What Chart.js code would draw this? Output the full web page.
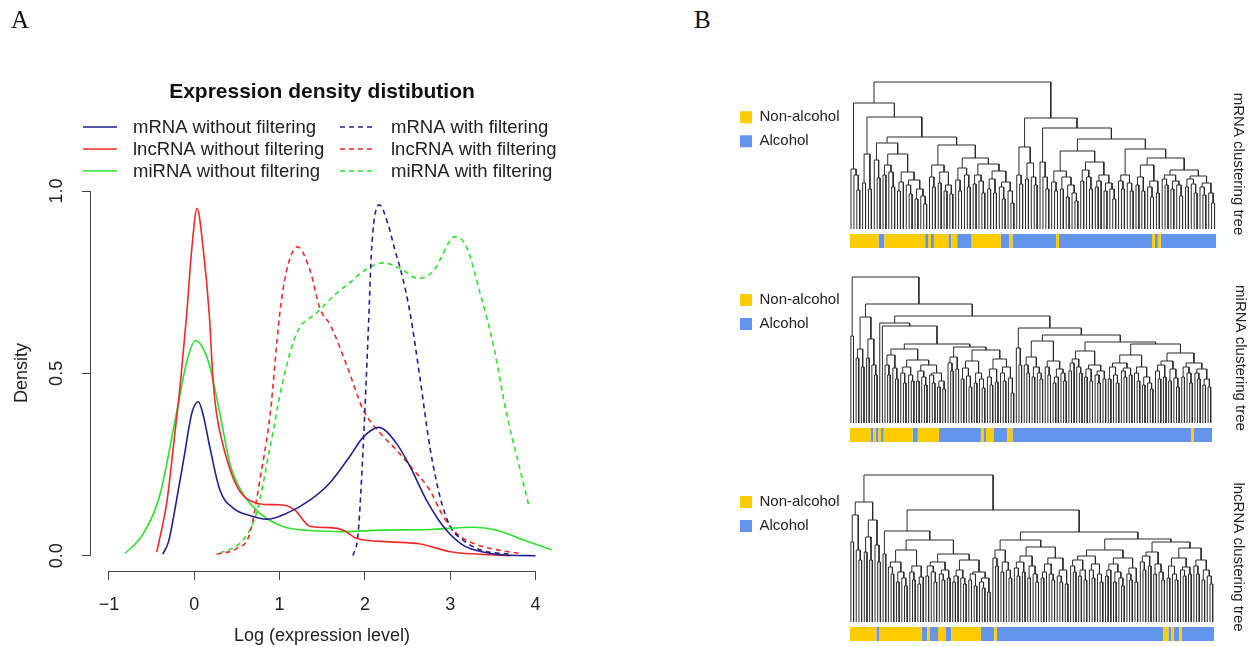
<!DOCTYPE html>
<html>
<head>
<meta charset="utf-8">
<script src="https://cdn.jsdelivr.net/npm/chart.js@4.4.1/dist/chart.umd.min.js"></script>
<style>
  html, body { margin: 0; padding: 0; background: #fff; overflow: hidden; }
  body { width: 1254px; height: 647px; position: relative; }
  .box { position: absolute; }
  .panel-label { position: absolute; font-family: "Liberation Serif", "Times New Roman", serif; font-size: 25px; color: #111; }
</style>
</head>
<body>
<div class="box" style="left:0; top:0; width:600px; height:647px;"><canvas id="densityChart"></canvas></div>
<div class="box" style="left:700px; top:70px; width:554px; height:190px;"><canvas id="mrnaTreeChart"></canvas></div>
<div class="box" style="left:700px; top:264px; width:554px; height:190px;"><canvas id="mirnaTreeChart"></canvas></div>
<div class="box" style="left:700px; top:463px; width:554px; height:184px;"><canvas id="lncTreeChart"></canvas></div>
<div class="panel-label" style="left:11px; top:6px;">A</div>
<div class="panel-label" style="left:694px; top:6px;">B</div>
<script>
// ---------- panel A: density curves, [log(expression), density]
const mrnaWithout = [[-0.37,0.004],[-0.30,0.04],[-0.21,0.15],[-0.12,0.27],[-0.03,0.39],[0.047,0.422],[0.11,0.38],[0.18,0.30],[0.30,0.18],[0.46,0.13],[0.65,0.11],[0.85,0.10],[1.08,0.116],[1.36,0.153],[1.59,0.20],[1.83,0.275],[1.98,0.325],[2.16,0.352],[2.37,0.308],[2.53,0.244],[2.72,0.153],[2.92,0.08],[3.15,0.029],[3.43,0.008],[3.7,0.001],[4.0,0]];
const lncWithout = [[-0.44,0.01],[-0.32,0.15],[-0.245,0.30],[-0.16,0.48],[-0.09,0.66],[-0.03,0.84],[0.032,0.953],[0.105,0.84],[0.176,0.66],[0.22,0.48],[0.26,0.39],[0.34,0.30],[0.5,0.19],[0.73,0.144],[0.9,0.14],[1.04,0.139],[1.18,0.125],[1.36,0.08],[1.59,0.077],[1.75,0.07],[1.90,0.048],[2.29,0.038],[2.65,0.032],[3.0,0.011],[3.35,0.004],[3.7,0.0]];
const mirnaWithout = [[-0.81,0.006],[-0.60,0.06],[-0.40,0.17],[-0.21,0.39],[-0.08,0.54],[0.016,0.59],[0.1,0.57],[0.18,0.52],[0.30,0.39],[0.42,0.25],[0.57,0.17],[0.77,0.116],[1.04,0.08],[1.36,0.069],[1.75,0.066],[2.18,0.07],[2.76,0.072],[3.27,0.078],[3.55,0.07],[3.86,0.043],[4.19,0.016]];
const mrnaWith = [[1.86,0.0],[1.92,0.06],[1.98,0.30],[2.04,0.62],[2.08,0.847],[2.17,0.962],[2.27,0.91],[2.35,0.84],[2.43,0.774],[2.53,0.665],[2.65,0.48],[2.76,0.30],[2.88,0.162],[3.0,0.08],[3.15,0.043],[3.35,0.016],[3.70,0.004]];
const lncWith = [[0.26,0.004],[0.5,0.02],[0.65,0.06],[0.77,0.21],[0.89,0.39],[1.0,0.66],[1.08,0.78],[1.21,0.847],[1.36,0.78],[1.47,0.68],[1.6,0.63],[1.79,0.52],[1.98,0.40],[2.18,0.336],[2.37,0.29],[2.57,0.235],[2.76,0.18],[2.92,0.107],[3.08,0.06],[3.27,0.034],[3.55,0.016],[3.82,0.006]];
const mirnaWith = [[0.30,0.006],[0.57,0.043],[0.73,0.117],[0.89,0.30],[1.04,0.48],[1.20,0.61],[1.43,0.665],[1.67,0.72],[1.83,0.75],[1.98,0.78],[2.22,0.803],[2.41,0.788],[2.63,0.76],[2.80,0.78],[3.06,0.875],[3.19,0.847],[3.35,0.72],[3.51,0.573],[3.66,0.39],[3.82,0.235],[3.92,0.139]];
const xTicks = [-1, 0, 1, 2, 3, 4];
const yTicks = [0, 0.5, 1];

// ---------- panel B: clustering trees, "(left right)height", "." = one sample
const mrnaTree =
  "(" +
    "(" + "(.(.(..)39)54)60" +
      "(" + "((..)46(..)40)75" +
        "(" +
          "(" + "(.(..)51)69" +
            "(" + "((..)54(.(..)42)57)64" +
              "(" + "((..)38.)47" + "((.(..)35)44((..)30(.(..)25)33)40)49" + ")57" +
            ")75" +
          ")86" +
          "(" + "((.(..)42)52((..)46((..)38(..)35)44)57)64" +
            "(" + "((.(..)38)49(.(..)42)54)61" +
              "(" + "((..)45(.(..)36)48)54" + "(((..)40(..)36)50((.(..)30)42(.(..)26)38)47)58" + ")65" +
            ")71" +
          ")84" +
        ")92" +
      ")112" +
    ")126" +
    "(" + "((.(..)45)54((..)50(.(..)44)52)66)82" +
      "(" + "(.(.(..)40)52)67" +
        "(" +
          "(" + "((.(..)38)47((..)40((..)32(.(..)28)36)44)52)58" +
            "(" + "((..)48(.(..)40)52)59" + "(((..)42.)48((..)38(.(..)30)40)46)54" + ")67" +
          ")78" +
          "(" + "((.(..)40)48(.(..)38)46)54" +
            "(" + "(((..)44(..)38)52((.(..)32)42(..)36)48)64" +
              "(" + "((.(..)44)50((..)40(.(..)33)44)48)54" + "(((..)42(.(..)36)45)50((.(..)34)42(.(..)26)36)46)53" + ")59" +
            ")71" +
          ")80" +
        ")90" +
      ")101" +
    ")111" +
  ")147";

const mirnaTree =
  "(" + "(..)87" +
    "(" +
      "(" + "((..)65(..)56)74" + "((..)65(.(..)48)58)84" + ")106" +
      "(" +
        "(.(." +
          "(" +
            "(" + "((.(..)48)58(.(..)44)55)68" +
              "(" + "((.(..)40)50(.(..)42)48)56" + "(((..)42(.(..)38)46)52((.(..)40)48((..)36(..)34)42)50)58" + ")63" +
            ")74" +
            "(" + "((.(..)52)60(..)54)66" +
              "(" + "(((..)44(.(..)36)47)55((..)40(.(..)35)44)50)62" + "(((.(..)38)46(..)41)54((.(..)42)50(.(..)30)45)56)64" + ")73" +
            ")76" +
          ")79" +
        ")97)100" +
        "(" + "(.(..)58)75" +
          "(" + "(((.(..)50)58((..)46(.(..)44)50)56)66((.(..)48)56(((..)40.)46(.(..)42)50)54)62)82" +
            "(" + "((((..)52.)60(.(..)50)56)64(((..)46(..)42)54((.(..)40)48(..)44)52)58)72" +
              "(" +
                "(" + "(((..)44(.(..)40)48)56((.(..)46)52(..)48)55)60" + "((.(..)42)50((..)38(.(..)34)40)46)56" + ")68" +
                "(" + "(((.(..)44)52(..)46)58((..)42(.(..)36)45)54)62" + "(((..)46(.(..)40)50)56((.(..)44)50((..)38(..)36)44)54)60" + ")70" +
              ")79" +
            ")81" +
          ")88" +
        ")95" +
      ")107" +
    ")119" +
  ")146";

const lncTree =
  "(" +
    "(" + "((..)80(.(..)62)72)107" + "(((..)70(..)62)85(.(..)60)77)102" + ")120" +
    "(" +
      "(" + "(..)68" +
        "(" + "(((.(..)48)55((..)40(.(..)36)44)50)60((.(..)42)50((..)38.)45)56)72" +
          "(" + "(((..)46(.(..)40)50)56((.(..)42)48(..)44)52)60" + "((((..)40.)46(.(..)38)44)52(((..)42(..)36)48((.(..)34)40(..)30)44)50)62" + ")68" +
        ")82" +
      ")91" +
      "(" +
        "(" + "((.(..)56)64((..)50(.(..)44)52)60)72" +
          "(" + "(((.(..)46)54(..)50)60((..)44(.(..)40)48)56)66" + "((((..)44.)50(.(..)42)48)58((.(..)40)46(..)38)52)64" + ")75" +
        ")82" +
        "(" +
          "(" + "(((.(..)50)56((..)46(..)42)52)62((.(..)44)52(.(..)40)48)58)66" + "((((..)46.)52((..)40(.(..)36)44)50)58((.(..)42)48(..)40)54)64" + ")72" +
          "(" + "(((.(..)52)60(..)56)66((..)48(.(..)42)50)58)70" +
            "(" + "(((..)44(.(..)42)48)56((.(..)46)52(..)48)55)64" + "((.(..)48)56((..)42(.(..)38)46)52)62" + ")74" +
          ")80" +
        ")83" +
      ")90" +
    ")112" +
  ")147";

// sample groups along the leaf order, run lengths alternating Non-alcohol / Alcohol
const mrnaGroups  = [10, 2, 14, 1, 1, 1, 5, 1, 2, 5, 10, 3, 1, 15, 1, 32, 1, 1, 1, 19];
const mirnaGroups = [8, 1, 1, 1, 1, 1, 11, 2, 8, 16, 1, 1, 3, 5, 2, 68, 1, 7];
const lncGroups   = [10, 1, 16, 2, 1, 3, 3, 2, 11, 5, 1, 62, 2, 1, 1, 2, 1, 12];

Chart.defaults.font.family = '"Liberation Sans", Arial, Helvetica, sans-serif';
Chart.defaults.color = '#222';

const navy = '#22228a', red = '#ee2a2a', green = '#2ee02e';
const yellow = '#FFCC00', blue = '#6495ED';

// ---------- panel A
const densityExtras = {
  id: 'densityExtras',
  afterDraw(chart) {
    const {ctx, chartArea} = chart;
    const x = chart.scales.x, y = chart.scales.y;
    ctx.save();
    // R draws the axis lines only between the outer ticks
    ctx.strokeStyle = '#444';
    ctx.lineWidth = 1;
    ctx.beginPath();
    const xb = Math.round(chartArea.bottom) + 0.5;
    ctx.moveTo(x.getPixelForValue(xTicks[0]), xb);
    ctx.lineTo(x.getPixelForValue(xTicks[xTicks.length - 1]), xb);
    const yl = Math.round(chartArea.left) - 0.5;
    ctx.moveTo(yl, y.getPixelForValue(yTicks[0]));
    ctx.lineTo(yl, y.getPixelForValue(yTicks[yTicks.length - 1]));
    ctx.stroke();

    ctx.fillStyle = '#111';
    ctx.textBaseline = 'middle';
    ctx.textAlign = 'center';
    ctx.font = 'bold 21px "Liberation Sans", Arial, sans-serif';
    ctx.fillText('Expression density distibution', 322, 92);

    // two-column legend like legend(ncol = 2)
    ctx.font = '18.5px "Liberation Sans", Arial, sans-serif';
    ctx.textAlign = 'left';
    chart.data.datasets.forEach((ds, k) => {
      const col = k < 3 ? 0 : 1;
      const ly = 127 + (k % 3) * 22;
      const lx = col ? 340 : 83, tx = col ? 391 : 133;
      ctx.strokeStyle = ds.borderColor;
      ctx.lineWidth = ds.borderWidth;
      ctx.setLineDash(ds.borderDash || []);
      ctx.beginPath();
      ctx.moveTo(lx, ly);
      ctx.lineTo(lx + 34, ly);
      ctx.stroke();
      ctx.setLineDash([]);
      ctx.fillStyle = '#222';
      ctx.fillText(ds.label, tx, ly + 1);
    });
    ctx.restore();
  }
};

const dash = [5, 4];
new Chart(document.getElementById('densityChart'), {
  type: 'line',
  data: {
    datasets: [
      {label: 'mRNA without filtering', data: mrnaWithout, borderColor: navy, borderWidth: 1.6},
      {label: 'lncRNA without filtering', data: lncWithout, borderColor: red, borderWidth: 1.6},
      {label: 'miRNA without filtering', data: mirnaWithout, borderColor: green, borderWidth: 1.6},
      {label: 'mRNA with filtering', data: mrnaWith, borderColor: navy, borderWidth: 1.6, borderDash: dash},
      {label: 'lncRNA with filtering', data: lncWith, borderColor: red, borderWidth: 1.6, borderDash: dash},
      {label: 'miRNA with filtering', data: mirnaWith, borderColor: green, borderWidth: 1.6, borderDash: dash}
    ]
  },
  options: {
    responsive: true,
    maintainAspectRatio: false,
    animation: false,
    layout: {padding: {left: 0, right: 47, top: 175, bottom: 0}},
    elements: {
      point: {radius: 0},
      line: {cubicInterpolationMode: 'monotone', fill: false}
    },
    plugins: {legend: {display: false}, tooltip: {enabled: false}},
    scales: {
      x: {
        type: 'linear', min: -1.211, max: 4.205,
        afterFit: s => { s.height = 76; },
        afterBuildTicks: s => { s.ticks = xTicks.map(v => ({value: v})); },
        grid: {drawOnChartArea: false, drawTicks: true, tickLength: 9, color: '#444'},
        border: {display: false},
        ticks: {font: {size: 18}, color: '#222', padding: 14, callback: v => String(v).replace('-', '\u2212')},
        title: {display: true, text: 'Log (expression level)', font: {size: 18}, color: '#222', padding: {top: 0, bottom: 0}}
      },
      y: {
        type: 'linear', min: -0.042, max: 1.044,
        afterFit: s => { s.width = 91; },
        afterBuildTicks: s => { s.ticks = yTicks.map(v => ({value: v})); },
        grid: {drawOnChartArea: false, drawTicks: true, tickLength: 9, color: '#444'},
        border: {display: false},
        ticks: {font: {size: 18}, color: '#222', padding: 12, minRotation: 90, maxRotation: 90, crossAlign: 'center', callback: v => v.toFixed(1)},
        title: {display: true, text: 'Density', font: {size: 18}, color: '#222', padding: {top: 11, bottom: 0}}
      }
    }
  },
  plugins: [densityExtras]
});

// ---------- panel B
// lay the tree out the way plot.hclust does: leaves 0.5, 1.5, ..., node at the middle of its children
function layoutTree(s) {
  let i = 0, leaves = 0;
  const pts = [];
  function walk() {
    if (s[i] === '.') { i++; leaves++; return {x: leaves - 0.5, h: 0}; }
    if (s[i] !== '(') throw new Error('tree syntax at ' + i);
    i++;
    const a = walk(), b = walk();
    if (s[i] !== ')') throw new Error('tree syntax at ' + i);
    i++;
    const j = i;
    while (i < s.length && s[i] >= '0' && s[i] <= '9') i++;
    const h = +s.slice(j, i);
    pts.push({x: a.x, y: a.h}, {x: a.x, y: h}, {x: b.x, y: h}, {x: b.x, y: b.h}, {x: b.x, y: null});
    return {x: (a.x + b.x) / 2, h: h};
  }
  walk();
  return {pts: pts, n: leaves};
}

function treeChart(id, tree, groups, axisTitle, lay) {
  const t = layoutTree(tree);
  const nonAlcohol = [], alcohol = [];
  let pos = 0;
  groups.forEach((len, k) => {
    const run = k % 2 === 0 ? nonAlcohol : alcohol;
    run.push({x: pos, y: -12}, {x: pos + len, y: -12}, {x: pos + len, y: null});
    pos += len;
  });
  return new Chart(document.getElementById(id), {
    type: 'scatter',
    data: {
      datasets: [
        {label: 'Non-alcohol', data: nonAlcohol, showLine: true, borderColor: yellow, backgroundColor: yellow, borderWidth: 14, borderCapStyle: 'butt', pointRadius: 0},
        {label: 'Alcohol', data: alcohol, showLine: true, borderColor: blue, backgroundColor: blue, borderWidth: 14, borderCapStyle: 'butt', pointRadius: 0},
        {label: 'tree', data: t.pts, showLine: true, borderColor: '#2b2b2b', borderWidth: 1, pointRadius: 0}
      ]
    },
    options: {
      responsive: true,
      maintainAspectRatio: false,
      animation: false,
      layout: {padding: {left: lay.left, right: 0, top: lay.top, bottom: lay.bottom}},
      plugins: {
        tooltip: {enabled: false},
        legend: {
          position: 'left',
          align: 'start',
          title: {display: true, text: '', font: {size: 1}, padding: {top: lay.legendTop, bottom: 0}},
          labels: {
            boxWidth: 12, boxHeight: 12, padding: 9, color: '#222', font: {size: 15},
            filter: item => item.text !== 'tree',
            generateLabels: chart => Chart.defaults.plugins.legend.labels.generateLabels(chart)
              .map(l => Object.assign(l, {lineWidth: 0, strokeStyle: l.fillStyle}))
          }
        }
      },
      scales: {
        x: {type: 'linear', display: false, min: 0, max: t.n},
        y: {
          type: 'linear', position: 'right', min: -20, max: 150,
          afterFit: s => { s.width = lay.axisWidth; },
          ticks: {display: false},
          grid: {display: false},
          border: {display: false},
          title: {display: true, text: axisTitle, font: {size: 15}, color: '#222', padding: {top: lay.titlePad, bottom: 0}}
        }
      }
    }
  });
}

treeChart('mrnaTreeChart', mrnaTree, mrnaGroups, 'mRNA clustering tree',
  {left: 31, top: 9, bottom: 11, legendTop: 20.6, axisWidth: 38, titlePad: 7});
treeChart('mirnaTreeChart', mirnaTree, mirnaGroups, 'miRNA clustering tree',
  {left: 31, top: 9, bottom: 11, legendTop: 9.3, axisWidth: 42, titlePad: 5});
treeChart('lncTreeChart', lncTree, lncGroups, 'lncRNA clustering tree',
  {left: 31, top: 9, bottom: 5, legendTop: 12.3, axisWidth: 40, titlePad: 7});
</script>
</body>
</html>
